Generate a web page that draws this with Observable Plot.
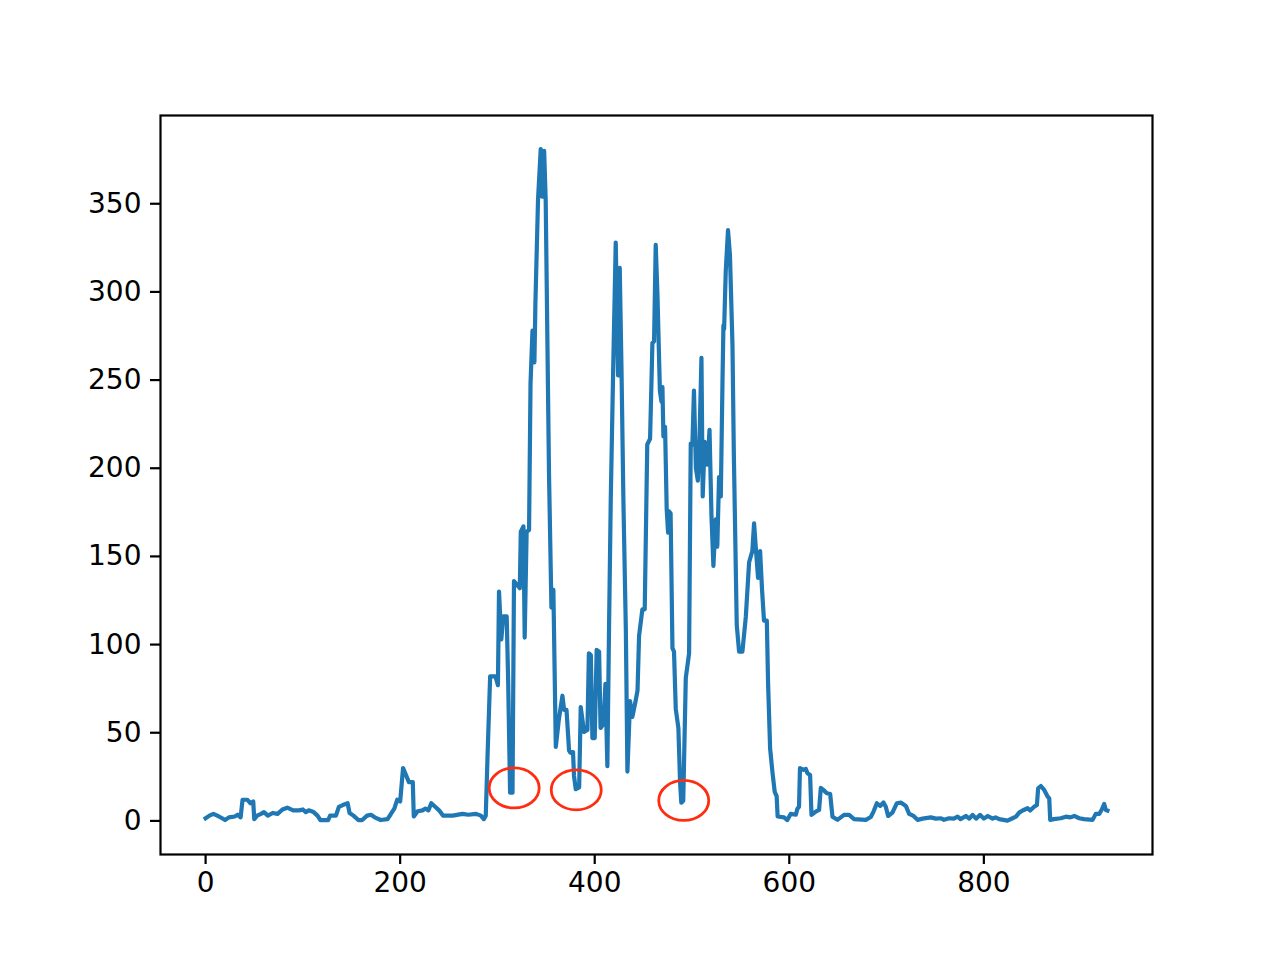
<!DOCTYPE html>
<html>
<head>
<meta charset="utf-8">
<script src="https://cdn.jsdelivr.net/npm/d3@7"></script>
<script src="https://cdn.jsdelivr.net/npm/@observablehq/plot@0.6"></script>
<style>
  html, body { margin: 0; padding: 0; background: #ffffff; }
  #chart { width: 1280px; height: 960px; }
</style>
</head>
<body>
<div id="chart"></div>
<script>
const sampleX = [0,4,8,12,17,20,24,30,33,36,38,43,46,49,50,53,57,60,64,69,74,79,84,90,96,100,103,106,111,115,118,126,128,134,137,141,146,148,152,157,161,166,170,175,180,187,190,194,197,200,203,206,209,213,214,218,223,226,229,232,236,240,244,254,264,270,278,283,286,288,290,292.5,298,300.5,301.6,304,306,309.5,311,313,315.5,317,320,323,324,326.7,328,330,332.5,334,336,338,339,341.7,344.5,346,348,349.6,353,355.5,357.5,360,363,366.8,368.5,371,373.6,375,377.7,378.7,380.5,384,385.6,389,392.5,394,396,397.6,400,402,404.5,406,409,411,413,414.7,416.5,419,421.6,424,425.7,427.5,429.5,432,433.6,436.3,438.7,442,444,445.6,449,451.4,454,456.9,459.3,461,462.7,464.5,467,468.6,469.6,470.6,472.3,474,475.4,476.5,478,479.9,481.5,483.3,486,487.7,489,491,493.6,497,498.7,500.4,502,504,506,507.3,509.7,511,513,515.9,518,520,522,524.4,526,527.8,529.6,531.3,532.3,533,534.7,537,539,541.6,543,546,548.4,551.8,555.3,558.7,562,563.8,565.5,567.9,570,572,574,576.9,578.2,580.3,582.7,585,587,588,594.6,598,601.5,606.7,608.4,610,611,614.6,617,618.7,621.4,622.8,627.2,630.6,632.4,635,638.6,642,644.4,649.5,656.3,661.5,666.6,678.7,683.8,686.6,690,693.4,696.8,699.2,701.6,706,710.5,714.6,719.8,723.2,727.7,731.8,737,745.5,750.6,756,759,764.3,769,773,776,781.5,785,788.4,792,796.2,800,804,809,812,815.8,824.3,829.5,833,836.3,839.8,845,847.6,851.7,854.5,855.8,858.6,862,865.5,867.2,868.2,872,879,884.3,889,893,898,903,911.8,915,918.6,921,923.7,925.4,927];
const sampleY = [1.5,3,4,3,1.5,0.5,2,2.5,3.5,2,12,12,10,11,1,3,4,5,3,4.5,4,6.5,7.5,6,6,6.5,5,6,5,3,0.5,0.5,3,3,8,9,10,4.5,3,0.5,0.5,3,3.5,1.7,0.5,1,3.5,7,12,11,30,26,22,22,2.5,5.5,6,7,6,10,8,6,3,3,4,3.5,4,3,1,3,40,82,82,77,130,103,116,116,80,16,16,136,134,132,164,167,104,164,165,248,278,260,293,352,381,354,380,352,197,121,131,42,57,71,63,63,40,38.6,39,25.5,18,19,64.6,50.5,51.6,95,94,47,47,97,96,52.7,55,77.7,31,109,183,257,328,252.6,313.7,257,181,108,28,68,59,68,74,105,120,120,213.5,216.7,271,272,326.7,298,244,237.7,246,218,223.5,176.6,163.5,175.5,174.4,98,96,63.5,52.7,22.3,10.3,11.4,81,95,214,213.5,244,200,193,207,262.6,184,215,202,221.8,173,144.6,171,155.5,195,184,248,281,279,312,335,321,270,208,111,96,96,115.7,146.7,153,168.7,155.5,137.8,153,131,113.6,113.6,78,41,27.5,16.5,14,2.5,2,0.5,4,3.5,7,8,30,29,29.5,27,26,3.4,5.3,6.2,18.7,17.6,15.7,15.3,2.4,0.6,3.4,3.4,1,0.6,2.2,5.3,10,8.5,10.4,8,2.8,4.7,10,10.4,8.5,4,2.8,0.6,1.3,2,1.3,1.5,0.6,1.5,1.3,2.4,1,2.8,1.3,3.4,1.3,3.4,1.3,2.8,1.3,2,1,0.2,1.5,2.4,4.7,5.9,7.2,5.9,8,9,18.5,19.8,17.6,13.8,12.9,0.6,1,1.5,2.4,2,2.8,1.5,1,0.6,4,4,6.2,9.6,6.2,5.9];

// Highlighted minima (red ellipses)
const markX = [317.2, 381, 491.5];
const markY = [18.7, 17.6, 11.6];

// Axis ticks
const xTicks = [0, 200, 400, 600, 800];
const yTicks = [0, 50, 100, 150, 200, 250, 300, 350];

const series = sampleX.map((x, i) => ({x, y: sampleY[i]}));
const marks = markX.map((x, i) => ({x, y: markY[i]}));

const rx = 25, ry = 20, k = 0.5523;
const ellipseSymbol = {
  draw(ctx) {
    ctx.moveTo(rx, 0);
    ctx.bezierCurveTo(rx, k * ry, k * rx, ry, 0, ry);
    ctx.bezierCurveTo(-k * rx, ry, -rx, k * ry, -rx, 0);
    ctx.bezierCurveTo(-rx, -k * ry, -k * rx, -ry, 0, -ry);
    ctx.bezierCurveTo(k * rx, -ry, rx, -k * ry, rx, 0);
    ctx.closePath();
  }
};

const chart = Plot.plot({
  width: 1280,
  height: 960,
  marginTop: 115,
  marginRight: 128,
  marginBottom: 106,
  marginLeft: 160,
  style: {fontFamily: "DejaVu Sans", fontSize: "28px", color: "black", background: "white", overflow: "visible"},
  x: {domain: [-46.35, 973.35]},
  y: {domain: [-19.05, 400.05]},
  marks: [
    Plot.line(series, {x: "x", y: "y", stroke: "#1f77b4", strokeWidth: 4.2, strokeLinejoin: "round", strokeLinecap: "square"}),
    Plot.dot(marks, {x: "x", y: "y", symbol: ellipseSymbol, stroke: "#ff2d10", strokeWidth: 2.8, fill: "none"}),
    Plot.frame({stroke: "black", strokeWidth: 2.2}),
    Plot.axisX({ticks: xTicks, tickSize: 10, tickPadding: 8, strokeWidth: 2.2, fontSize: 28, label: null, tickFormat: d => String(d)}),
    Plot.axisY({ticks: yTicks, tickSize: 10, tickPadding: 9, strokeWidth: 2.2, fontSize: 28, label: null, tickFormat: d => String(d)})
  ]
});
document.getElementById("chart").appendChild(chart);
</script>
</body>
</html>
